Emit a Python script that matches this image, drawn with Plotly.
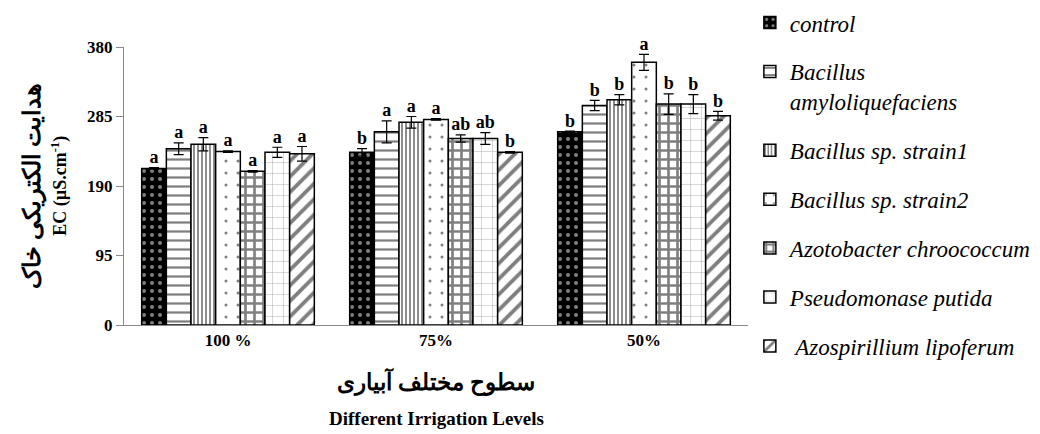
import plotly.graph_objects as go

levels = ["100 %", "75%", "50%"]
series = ["control", "Bacillus<br>amyloliquefaciens", "Bacillus sp. strain1",
          "Bacillus sp. strain2", "Azotobacter chroococcum", "Pseudomonase putida",
          " Azospirillium lipoferum"]
ctrl = [214, 236, 264]
amylo = [241, 264, 300]
strain1 = [247, 277, 308]
strain2 = [237, 281, 359]
azoto = [210, 255, 302]
pseudo = [236, 255, 302]
azosp = [234, 236, 286]
values = [ctrl, amylo, strain1, strain2, azoto, pseudo, azosp]

err_ctrl = [1, 5, 1]
err_amylo = [8, 15, 7]
err_strain1 = [9, 8, 7]
err_strain2 = [1, 1, 11]
err_azoto = [1, 5, 14]
err_pseudo = [7, 8, 13]
err_azosp = [10, 1, 6]
errors = [err_ctrl, err_amylo, err_strain1, err_strain2, err_azoto, err_pseudo, err_azosp]

let_ctrl = ["a", "b", "b"]
let_amylo = ["a", "a", "b"]
let_strain1 = ["a", "a", "b"]
let_strain2 = ["a", "a", "a"]
let_azoto = ["a", "ab", "b"]
let_pseudo = ["a", "ab", "b"]
let_azosp = ["a", "b", "b"]
letters = [let_ctrl, let_amylo, let_strain1, let_strain2, let_azoto, let_pseudo, let_azosp]

patterns = [
    dict(shape=".", bgcolor="black", fgcolor="white", size=8, solidity=0.2),
    dict(shape="-", bgcolor="white", fgcolor="black", size=9, solidity=0.25),
    dict(shape="|", bgcolor="white", fgcolor="black", size=4, solidity=0.45),
    dict(shape=".", bgcolor="white", fgcolor="black", size=12, solidity=0.05),
    dict(shape="+", bgcolor="white", fgcolor="black", size=9, solidity=0.5),
    dict(shape="+", bgcolor="white", fgcolor="#333", size=11, solidity=0.07),
    dict(shape="/", bgcolor="white", fgcolor="black", size=11, solidity=0.35),
]

n = len(series)
bw = 0.83 / n
serif = "Liberation Serif"
legend_font = "Liberation Serif, Times New Roman, serif"

fig = go.Figure()
for j in range(n):
    xs = [i + (j - (n - 1) / 2) * bw for i in range(len(levels))]
    fig.add_trace(go.Bar(
        x=xs, y=values[j], width=bw, name=series[j],
        legendgroup=str(j),
        marker=dict(color="white", pattern=patterns[j],
                    line=dict(color="black", width=1.5)),
        error_y=dict(type="data", array=errors[j], color="black", thickness=1.2, width=5),
    ))
for j in range(n):
    xs = [i + (j - (n - 1) / 2) * bw for i in range(len(levels))]
    tops = [v + e for v, e in zip(values[j], errors[j])]
    fig.add_trace(go.Scatter(
        x=xs, y=tops, mode="text", text=letters[j], textposition="top center",
        textfont=dict(family=serif, size=18, color="black", weight="bold"),
        showlegend=False, hoverinfo="skip", cliponaxis=False,
    ))

fig.add_annotation(text="Different Irrigation Levels", xref="paper", yref="paper",
                   x=0.5, y=-0.335, yanchor="middle", showarrow=False,
                   font=dict(family=serif, size=19, color="black", weight="bold"))
fig.add_annotation(text="EC (µS.cm<sup>-1</sup>)", xref="paper", yref="paper",
                   x=-0.103, y=0.5, xanchor="center", textangle=-90, showarrow=False,
                   font=dict(family=serif, size=18, color="black", weight="bold"))

fig.update_layout(
    width=1040, height=434,
    margin=dict(l=116, r=300, t=39, b=117, autoexpand=False),
    plot_bgcolor="white", paper_bgcolor="white",
    showlegend=True,
    legend=dict(x=1.003, y=1.165, xanchor="left", yanchor="top",
                font=dict(family=legend_font, size=23, color="black", style="italic"),
                tracegroupgap=16, bgcolor="rgba(0,0,0,0)", itemwidth=30,
                valign="top", maxheight=434),
    xaxis=dict(range=[-0.5, 2.5], tickvals=list(range(len(levels))), ticktext=levels,
               showline=True, linecolor="#888", linewidth=1, showgrid=False, zeroline=False,
               ticks="", tickfont=dict(family=serif, size=17, color="black", weight="bold"),
               title=dict(text="سطوح مختلف آبیاری",
                          font=dict(family=serif, size=23, color="black", weight="bold"),
                          standoff=24)),
    yaxis=dict(range=[0, 380], tickvals=[0, 95, 190, 285, 380],
               showline=True, linecolor="#888", linewidth=1, showgrid=False, zeroline=False,
               ticks="outside", ticklen=7, tickcolor="#888",
               tickfont=dict(family=serif, size=17, color="black", weight="bold"),
               title=dict(text="هدایت الکتریکی خاک",
                          font=dict(family=serif, size=24, color="black", weight="bold"),
                          standoff=39)),
)

fig.write_html("out.html")
